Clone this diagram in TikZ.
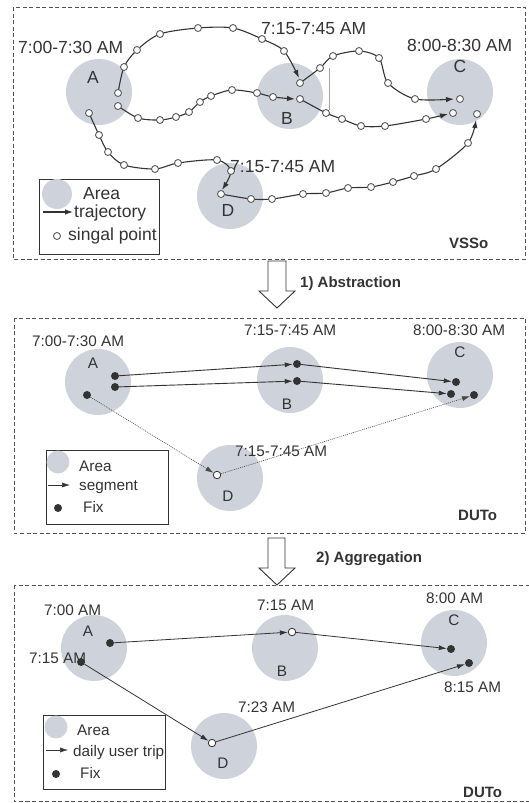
\documentclass[tikz,border=0pt]{standalone}
\usepackage{fontspec}
\setmainfont{Liberation Sans}
\usetikzlibrary{arrows.meta}
\definecolor{areac}{RGB}{206,211,219}
\definecolor{ink}{RGB}{51,51,51}
\newcommand\trajpts[2]{\foreach \px/\py [count=\i] in {#2}{\coordinate (#1-\i) at (\px,\py);}}
\begin{document}
\begin{tikzpicture}[x=1pt,y=-1pt,
  area/.style={circle,fill=areac,draw=none,minimum size=66pt,inner sep=0pt},
  big/.style={font=\fontsize{17.5}{20}\selectfont,text=ink,inner sep=0pt},
  mid/.style={font=\fontsize{15.3}{18}\selectfont,text=ink,inner sep=0pt},
  ttl/.style={font=\fontsize{15}{18}\selectfont\bfseries,text=ink,inner sep=0pt},
  panel/.style={draw=ink!85,line width=0.9pt,dash pattern=on 4pt off 2.5pt},
  legbox/.style={draw=ink,line width=1pt},
  sig/.style={circle,draw=ink!80,fill=white,line width=0.9pt,minimum size=7pt,inner sep=0pt},
  fix/.style={circle,fill=ink,minimum size=8pt,inner sep=0pt},
  hfix/.style={circle,fill=white,draw=ink,line width=0.8pt,minimum size=7.5pt,inner sep=0pt},
  traj/.style={draw=ink,line width=1.1pt,-{Latex[length=8pt,width=5.5pt]}},
  seg/.style={draw=ink,line width=0.9pt,-{Latex[length=8pt,width=5pt]}},
  dseg/.style={draw=ink!90,line width=0.6pt,dash pattern=on 1pt off 1pt,-{Latex[length=8pt,width=5pt]}},
  trip/.style={draw=ink,line width=0.8pt,-{Latex[length=8pt,width=5pt]}},
  hollow/.style={draw=ink,line width=0.9pt,fill=white,line join=miter}
]
\useasboundingbox (0,0) rectangle (529,803);

% ---------------- panel frames ----------------
\draw[panel] (13,7) rectangle (525,259);
\draw[panel] (14,318) rectangle (525,533);
\begin{scope}
\clip (0,0) rectangle (529,803);
\draw[panel] (14,585) rectangle (540,801);
\end{scope}

% ---------------- panel 1 : VSSo ----------------
\node[area] (A1) at (99,92) {};
\node[area] (B1) at (290,96) {};
\node[area] (C1) at (460,92) {};
\node[area] (D1) at (230,196) {};
\draw[ink!45,line width=0.6pt] (329,68) -- (329,110);

\node[big,anchor=base] (lA1) at (93,83) {A};
\node[big,anchor=base] (lB1) at (287,124) {B};
\node[big,anchor=base] (lC1) at (460,72) {C};
\node[big,anchor=base] (lD1) at (228,216) {D};
\node[big,anchor=base west] (tA1) at (18,53) {7:00-7:30 AM};
\node[big,anchor=base west] (tB1) at (261,34) {7:15-7:45 AM};
\node[big,anchor=base west] (tC1) at (407,51) {8:00-8:30 AM};
\node[big,anchor=base west] (tD1) at (230,172) {7:15-7:45 AM};
\node[ttl,anchor=base west] (vsso) at (449,248) {VSSo};

\trajpts{ta}{118/93,124/67,137/50,160/34,198/28,233/28,262/39,284/51,299/78}
\trajpts{tb}{300/83,320/68,333/56,359/51,379/58,388/83,415/99,454/99}
\trajpts{tc}{118/106,138/118,160/120,176/117,189/112,200/102,211/96,232/90,257/93,273/97,295/99}
\trajpts{td}{300/99,326/113,342/119,361/126,385/126,426/119,448/114}
\trajpts{te}{89/113,99/135,108/152,124/165,155/169,178/163,217/160,231/171,222/190}
\trajpts{tf}{221/194,251/199,272/199,303/194,326/193,348/188,371/187,393/182,414/176,436/169,468/143,476/120}

\draw[traj] plot[smooth] coordinates {(ta-1) (ta-2) (ta-3) (ta-4) (ta-5) (ta-6) (ta-7) (ta-8) (ta-9)};
\draw[traj] plot[smooth] coordinates {(tb-1) (tb-2) (tb-3) (tb-4) (tb-5) (tb-6) (tb-7) (tb-8)};
\draw[traj] plot[smooth] coordinates {(tc-1) (tc-2) (tc-3) (tc-4) (tc-5) (tc-6) (tc-7) (tc-8) (tc-9) (tc-10) (tc-11)};
\draw[traj] plot[smooth] coordinates {(td-1) (td-2) (td-3) (td-4) (td-5) (td-6) (td-7)};
\draw[traj] plot[smooth] coordinates {(te-1) (te-2) (te-3) (te-4) (te-5) (te-6) (te-7) (te-8) (te-9)};
\draw[traj] plot[smooth] coordinates {(tf-1) (tf-2) (tf-3) (tf-4) (tf-5) (tf-6) (tf-7) (tf-8) (tf-9) (tf-10) (tf-11) (tf-12)};

\foreach \i in {1,...,8} \node[sig] (sa\i) at (ta-\i) {};
\foreach \i in {2,...,7} \node[sig] (sb\i) at (tb-\i) {};
\foreach \i in {1,...,10} \node[sig] (sc\i) at (tc-\i) {};
\foreach \i in {2,...,6} \node[sig] (sd\i) at (td-\i) {};
\foreach \i in {1,...,8} \node[sig] (se\i) at (te-\i) {};
\foreach \i in {2,...,11} \node[sig] (sf\i) at (tf-\i) {};
\node[sig] (eB1) at (tb-1) {};
\node[sig] (eB2) at (td-1) {};
\node[sig] (eD1) at (tf-1) {};
\node[sig] (eC1) at (460,99) {};
\node[sig] (eC2) at (453,113) {};
\node[sig] (eC3) at (477,114) {};

% legend 1
\draw[legbox] (39,179) rectangle (159,254);
\node[area,minimum size=30pt] (lg1a) at (57,194) {};
\node[big,anchor=base west] (lg1at) at (83,199) {Area};
\coordinate (lg1s) at (43,212);
\coordinate (lg1e) at (73,212);
\draw[traj] (lg1s) -- (lg1e);
\node[big,anchor=base west] (lg1tt) at (74,217) {trajectory};
\node[sig] (lg1p) at (57,236) {};
\node[big,anchor=base west] (lg1pt) at (68,240) {singal point};

% arrow 1
\draw[hollow] (268,261) -- (286,261) -- (286,291) -- (295,291) -- (277,308) -- (259,291) -- (268,291) -- cycle;
\node[ttl,anchor=base west] (abs) at (300,287) {1) Abstraction};

% ---------------- panel 2 : DUTo ----------------
\node[area] (A2) at (98,382) {};
\node[area] (B2) at (290,380) {};
\node[area] (C2) at (460,375) {};
\node[area] (D2) at (230,478) {};
\node[mid,anchor=base] (lA2) at (93,368) {A};
\node[mid,anchor=base] (lB2) at (287,409) {B};
\node[mid,anchor=base] (lC2) at (460,357) {C};
\node[mid,anchor=base] (lD2) at (228,501) {D};
\node[mid,anchor=base west] (tA2) at (32,346) {7:00-7:30 AM};
\node[mid,anchor=base west] (tB2) at (244,335) {7:15-7:45 AM};
\node[mid,anchor=base west] (tC2) at (413,335) {8:00-8:30 AM};
\node[mid,anchor=base west] (tD2) at (235,456) {7:15-7:45 AM};
\node[ttl,anchor=base west] (duto1) at (458,520) {DUTo};

\node[fix] (fa1) at (115,376) {};
\node[fix] (fa2) at (115,387) {};
\node[fix] (fa3) at (87,395) {};
\node[fix] (fb1) at (297,364) {};
\node[fix] (fb2) at (297,381) {};
\node[fix] (fc1) at (456,382) {};
\node[fix] (fc2) at (451,394) {};
\node[fix] (fc3) at (474,395) {};
\node[hfix] (fd) at (217,475) {};
\draw[seg] (fa1) -- (fb1);
\draw[seg] (fb1) -- (fc1);
\draw[seg] (fa2) -- (fb2);
\draw[seg] (fb2) -- (fc2);
\draw[dseg] (fa3) -- (fd);
\draw[dseg] (fd) -- (fc3);

% legend 2
\draw[legbox] (46,450) rectangle (168,524);
\node[area,minimum size=23pt] (lg2a) at (58,462) {};
\node[mid,anchor=base west] (lg2at) at (79,471) {Area};
\coordinate (lg2s) at (48,485);
\coordinate (lg2e) at (70,485);
\draw[seg,line width=0.6pt] (lg2s) -- (lg2e);
\node[mid,anchor=base west] (lg2st) at (79,490) {segment};
\node[fix] (lg2f) at (58,508) {};
\node[mid,anchor=base west] (lg2ft) at (83,512) {Fix};

% arrow 2
\draw[hollow] (268,538) -- (285,538) -- (285,568) -- (295,568) -- (277,585) -- (259,568) -- (268,568) -- cycle;
\node[ttl,anchor=base west] (agg) at (316,562) {2) Aggregation};

% ---------------- panel 3 : DUTo ----------------
\node[area] (A3) at (94,648) {};
\node[area] (B3) at (285,648) {};
\node[area] (C3) at (454,643) {};
\node[area] (D3) at (224,746) {};
\node[mid,anchor=base] (lA3) at (88,636) {A};
\node[mid,anchor=base] (lB3) at (282,676) {B};
\node[mid,anchor=base] (lC3) at (454,625) {C};
\node[mid,anchor=base] (lD3) at (223,768) {D};
\node[mid,anchor=base west] (tA3a) at (44,615) {7:00 AM};
\node[mid,anchor=base west] (tA3b) at (29,663) {7:15 AM};
\node[mid,anchor=base west] (tB3) at (257,610) {7:15 AM};
\node[mid,anchor=base west] (tC3a) at (426,603) {8:00 AM};
\node[mid,anchor=base west] (tC3b) at (444,692) {8:15 AM};
\node[mid,anchor=base west] (tD3) at (238,712) {7:23 AM};
\node[ttl,anchor=base west] (duto2) at (463,797) {DUTo};

\node[fix] (ga1) at (110,643) {};
\node[fix] (ga2) at (81,662) {};
\node[hfix] (gb) at (292,632) {};
\node[fix] (gc1) at (451,649) {};
\node[fix] (gc2) at (469,663) {};
\node[hfix] (gd) at (212,743) {};
\draw[trip] (ga1) -- (gb);
\draw[trip] (gb) -- (gc1);
\draw[trip] (ga2) -- (gd);
\draw[trip] (gd) -- (gc2);

% legend 3
\draw[legbox] (43,715) rectangle (165,789);
\node[area,minimum size=23pt] (lg3a) at (56,727) {};
\node[mid,anchor=base west] (lg3at) at (77,735) {Area};
\coordinate (lg3s) at (46,750);
\coordinate (lg3e) at (68,750);
\draw[trip,line width=0.5pt] (lg3s) -- (lg3e);
\node[mid,anchor=base west] (lg3tt) at (73,756) {daily user trip};
\node[fix] (lg3f) at (56,774) {};
\node[mid,anchor=base west] (lg3ft) at (80,778) {Fix};
\end{tikzpicture}
\end{document}
